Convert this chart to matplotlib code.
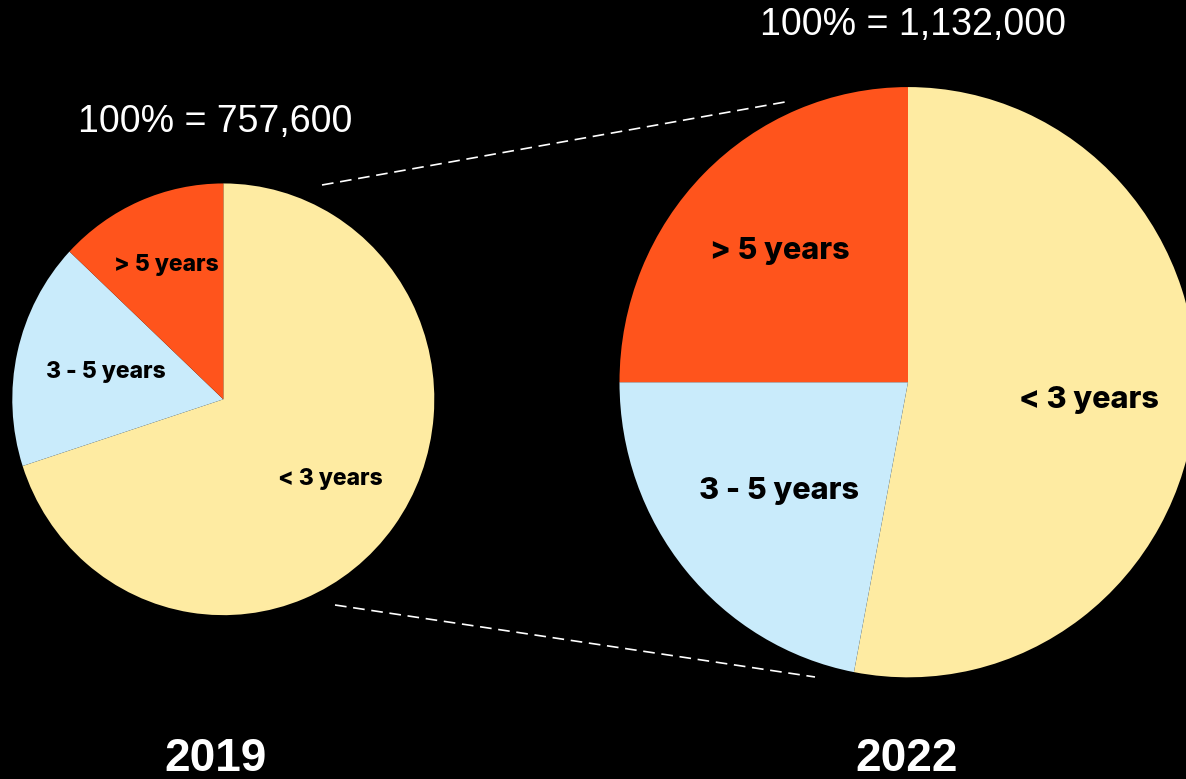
import numpy as np
import matplotlib.pyplot as plt

# tenure split, listed clockwise from 12 o'clock
groups = ['< 3 years', '3 - 5 years', '> 5 years']
share_2019 = [70, 17, 13]
share_2022 = [53, 22, 25]
total_2019 = '757,600'
total_2022 = '1,132,000'
colors = ['#FEEBA2', '#C9EBFB', '#FF541C']

W, H = 1186, 779
SY = 1.023  # circles come out slightly taller than wide
fig = plt.figure(figsize=(W / 100, H / 100), dpi=100, facecolor='black')
ax = fig.add_axes([0, 0, 1, 1])
ax.set_facecolor('black')

label_font = ['Inter', 'Roboto', 'DejaVu Sans']
light_font = ['Liberation Sans', 'DejaVu Sans']
year_font = ['Liberation Sans', 'DejaVu Sans']


def py(y):
    # pixel row (from the top) -> data y
    return (H - y) / SY


def draw_pie(values, cx, cy, r, fsize, dists):
    wedges, _ = ax.pie(values, colors=colors, startangle=90, counterclock=False,
                       center=(cx, py(cy)), radius=r, frame=True,
                       wedgeprops=dict(linewidth=0))
    for w, name, d in zip(wedges, groups, dists):
        mid = np.deg2rad((w.theta1 + w.theta2) / 2)
        ax.text(cx + d * r * np.cos(mid), py(cy) + d * r * np.sin(mid), name,
                ha='center', va='center', fontsize=fsize, fontweight='heavy',
                family=label_font, color='black')


draw_pie(share_2019, 223.3, 399.3, 211, 16.5, [0.63, 0.57, 0.68])
draw_pie(share_2022, 908, 382.2, 288.5, 22, [0.63, 0.58, 0.63])

ax.set_xlim(0, W)
ax.set_ylim(0, H / SY)
ax.set_aspect('auto')
ax.axis('off')

# dashed connectors between the two circles
ax.plot([322, 785], [py(185), py(102)], color='white', lw=1.2, ls=(0, (7, 4)))
ax.plot([335, 815], [py(605), py(677)], color='white', lw=1.2, ls=(0, (7, 4)))

ax.text(215, py(132), '100% = ' + total_2019, ha='center', va='baseline',
        fontsize=27, family=light_font, color='white')
ax.text(913, py(35), '100% = ' + total_2022, ha='center', va='baseline',
        fontsize=27, family=light_font, color='white')

ax.text(215, py(771), '2019', ha='center', va='baseline', fontsize=33,
        fontweight='bold', family=year_font, color='white')
ax.text(907, py(771), '2022', ha='center', va='baseline', fontsize=33,
        fontweight='bold', family=year_font, color='white')

fig.savefig('out.png', dpi=100, facecolor='black')
